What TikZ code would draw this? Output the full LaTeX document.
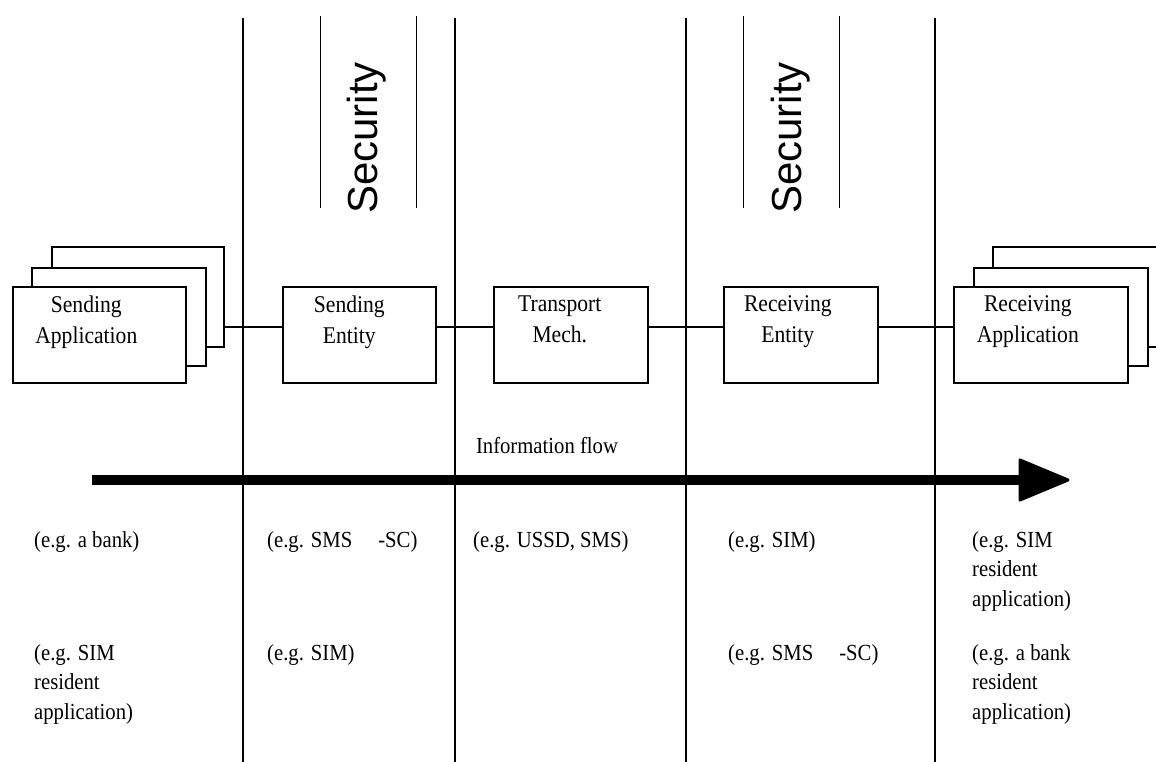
\documentclass[tikz,border=0pt]{standalone}
\usepackage{fontspec}
\setmainfont{Liberation Serif}[FakeStretch=0.9]
\newfontfamily\secfont{Liberation Sans}
\usetikzlibrary{calc}
\begin{document}
\begin{tikzpicture}[x=1pt,y=-1pt,
  sepline/.style={line width=2.3pt},
  thinline/.style={line width=0.9pt},
  box/.style={draw, line width=1.6pt, fill=white, inner sep=0pt, anchor=north west},
  conn/.style={line width=2pt},
  lbl/.style={font=\fontsize{24}{31}\selectfont, align=center, anchor=north, inner sep=0pt},
  note/.style={font=\fontsize{23}{29.5}\selectfont, align=left, anchor=north west, inner sep=0pt},
  sec/.style={font=\secfont\fontsize{42}{42}\selectfont, rotate=90, inner sep=0pt}]
\useasboundingbox (0,0) rectangle (1156,762);
\clip (0,0) rectangle (1156,762);

% vertical separators
\foreach \n/\x in {s1/243,s2/455,s3/686,s4/935}{
  \coordinate (\n t) at (\x,18);
  \coordinate (\n b) at (\x,762);
  \draw[sepline] (\n t) -- (\n b);
}

% security bars
\foreach \n/\x in {a/320,b/416,c/743,d/839}{
  \coordinate (\n t) at (\x,16);
  \coordinate (\n b) at (\x,208);
  \draw[thinline] (\n t) -- (\n b);
}
\node[sec] (sec1) at (367,138) {Security};
\node[sec] (sec2) at (791,138) {Security};

% connector level
\coordinate (cy) at (0,327);

% sending application stack
\node[box, minimum width=172pt, minimum height=100pt] (sa3) at (51,246) {};
\node[box, minimum width=174pt, minimum height=98pt] (sa2) at (31,267) {};
\node[box, minimum width=173pt, minimum height=96pt] (sa1) at (12,286) {};
\node[lbl] (sat) at ($(sa1.north)+(-13,9.5)$) {Sending\\Application};

% entity boxes
\node[box, minimum width=153pt, minimum height=96pt] (se) at (282,286) {};
\node[lbl] (set) at ($(se.north)+(-10,9.5)$) {Sending\\Entity};
\node[box, minimum width=154pt, minimum height=96pt] (tm) at (493,286) {};
\node[lbl] (tmt) at ($(tm.north)+(-11,9.5)$) {Transport\\Mech.};
\node[box, minimum width=154pt, minimum height=96pt] (re) at (723,286) {};
\node[lbl] (ret) at ($(re.north)+(-13,9.5)$) {Receiving\\Entity};

% receiving application stack
\node[box, minimum width=190pt, minimum height=100pt] (ra3) at (992,246) {};
\node[box, minimum width=174pt, minimum height=98pt] (ra2) at (973,267) {};
\node[box, minimum width=174pt, minimum height=96pt] (ra1) at (953,286) {};
\node[lbl] (rat) at ($(ra1.north)+(-13,9.5)$) {Receiving\\Application};

% connectors
\draw[conn] (sa3.east |- cy) -- (se.west |- cy);
\draw[conn] (se.east |- cy) -- (tm.west |- cy);
\draw[conn] (tm.east |- cy) -- (re.west |- cy);
\draw[conn] (re.east |- cy) -- (ra1.west |- cy);

% information flow
\node[font=\fontsize{23}{27}\selectfont, anchor=base, inner sep=0pt] (inf) at (547,453) {Information flow};
\coordinate (fs) at (92,480);
\coordinate (fh) at (1020,480);
\coordinate (fe) at (1068,480);
\draw[line width=10pt] (fs) -- ($(fh)+(4,0)$);
\fill[draw, line width=3pt, line join=round] ($(fh)+(0,-20)$) -- (fe) -- ($(fh)+(0,20)$) -- cycle;

% notes row 1
\node[note] (n11) at (34,531) {(e.g. a bank)};
\node[note] (n12) at (267,531) {(e.g. SMS\hspace{26pt}-SC)};
\node[note] (n13) at (473,531) {(e.g. USSD, SMS)};
\node[note] (n14) at (728,531) {(e.g. SIM)};
\node[note] (n15) at (972,531) {(e.g. SIM\\resident\\application)};
% notes row 2
\node[note] (n21) at (34,644) {(e.g. SIM\\resident\\application)};
\node[note] (n22) at (267,644) {(e.g. SIM)};
\node[note] (n24) at (728,644) {(e.g. SMS\hspace{26pt}-SC)};
\node[note] (n25) at (972,644) {(e.g. a bank\\resident\\application)};
\end{tikzpicture}
\end{document}
